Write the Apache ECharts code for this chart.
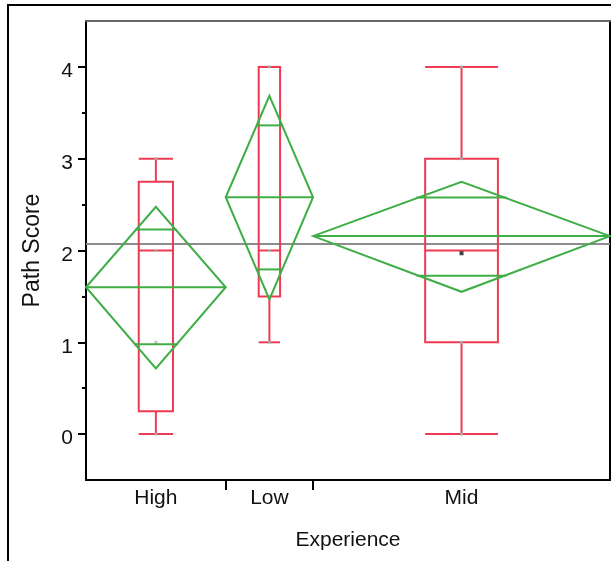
<!DOCTYPE html>
<html><head><meta charset="utf-8">
<script src="https://cdn.jsdelivr.net/npm/echarts@6/dist/echarts.min.js"></script>
<style>html,body{margin:0;padding:0;background:#fff}#c{width:611px;height:561px}</style>
</head><body><div id="c"></div>
<script>
// ---- data ----
const categories = ['High', 'Low', 'Mid'];
const counts = [8, 5, 17];
const means = [1.60, 2.58, 2.157];
const ciUpper = [2.476, 3.685, 2.749];
const ciLower = [0.716, 1.467, 1.55];
const overlapUpper = [2.23, 3.363, 2.578];
const overlapLower = [0.98, 1.794, 1.724];
const boxMin = [0, 1, 0];
const boxQ1 = [0.25, 1.5, 1];
const boxMedian = [2, 2, 2];
const boxQ3 = [2.75, 4, 3];
const boxMax = [3, 4, 4];
const grandMean = 2.07;
const pointsHigh = [0, 1, 2, 3];
const pointsLow = [1, 1.5, 2, 4];
const pointsMid = [0, 1, 3, 4];
const pointsMidDark = [1.97];
const yTicks = [0, 1, 2, 3, 4];
const yMinorTicks = [0.5, 1.5, 2.5, 3.5];

// ---- derived layout (group widths proportional to counts) ----
const starts = [];
let acc = 0;
counts.forEach(n => { starts.push(acc); acc += n; });
const total = acc;
const centers = counts.map((n, i) => starts[i] + n / 2);
const separators = starts.slice(1);
const BOX_FRAC = 0.245;

const RED = '#ee3a52', GREEN = '#3fae46', GREY = '#8c8c8c';
const FONT = "'Liberation Sans', Arial, sans-serif";
const FS = 21;

const chart = echarts.init(document.getElementById('c'), null, {renderer: 'canvas'});

function pointData(vals, i) { return vals.map(v => [centers[i], v]); }

const option = {
  animation: false,
  backgroundColor: '#fff',
  grid: {left: 86, right: 1, top: 21, bottom: 81, containLabel: false},
  graphic: [{
    type: 'polyline', silent: true,
    shape: {points: [[8, 561], [8, 5], [611, 5]]},
    style: {stroke: '#000', lineWidth: 2, fill: null}
  }],
  xAxis: [{
    type: 'value', min: 0, max: total, position: 'bottom',
    axisLine: {show: true, onZero: false, lineStyle: {color: '#000', width: 2}},
    axisTick: {show: true, customValues: separators, length: 10, lineStyle: {color: '#000', width: 2}},
    axisLabel: {
      customValues: centers, margin: 8, color: '#111', fontSize: FS, fontFamily: FONT,
      formatter: v => {
        let best = 0;
        centers.forEach((c, i) => { if (Math.abs(c - v) < Math.abs(centers[best] - v)) best = i; });
        return categories[best];
      }
    },
    splitLine: {show: false},
    name: 'Experience', nameLocation: 'middle', nameGap: 50,
    nameTextStyle: {color: '#111', fontSize: FS, fontFamily: FONT}
  }, {
    type: 'value', min: 0, max: total, position: 'top',
    axisLine: {show: true, onZero: false, lineStyle: {color: '#666', width: 2}},
    axisTick: {show: false}, axisLabel: {show: false}, splitLine: {show: false}
  }],
  yAxis: [{
    type: 'value', min: -0.5, max: 4.5, position: 'left',
    axisLine: {show: true, onZero: false, lineStyle: {color: '#000', width: 2}},
    axisTick: {show: true, customValues: yTicks, length: 8, lineStyle: {color: '#000', width: 2}},
    axisLabel: {
      customValues: yTicks, margin: 13, color: '#111', fontSize: FS, fontFamily: FONT,
      formatter: v => '{a|' + v + '}',
      rich: {a: {fontSize: FS, fontFamily: FONT, color: '#111', padding: [9, 0, 0, 0]}}
    },
    splitLine: {show: false},
    name: 'Path Score', nameLocation: 'middle', nameGap: 42,
    nameTextStyle: {color: '#111', fontSize: 23, fontFamily: FONT}
  }, {
    type: 'value', min: -0.5, max: 4.5, position: 'left', offset: 0,
    axisLine: {show: false},
    axisTick: {show: true, customValues: yMinorTicks, length: 4, lineStyle: {color: '#000', width: 2}},
    axisLabel: {show: false}, splitLine: {show: false}
  }, {
    type: 'value', min: -0.5, max: 4.5, position: 'right', offset: 0,
    axisLine: {show: true, onZero: false, lineStyle: {color: '#000', width: 2}},
    axisTick: {show: false}, axisLabel: {show: false}, splitLine: {show: false}
  }],
  series: [
    {
      type: 'custom', name: 'grandMean', silent: true, z: 2,
      data: [[0, grandMean, total]],
      renderItem: (params, api) => {
        const a = api.coord([api.value(0), api.value(1)]);
        const b = api.coord([api.value(2), api.value(1)]);
        return {type: 'line', shape: {x1: a[0], y1: a[1], x2: b[0], y2: b[1]},
          style: {stroke: GREY, lineWidth: 2}};
      }
    },
    {
      type: 'custom', name: 'box', silent: true, z: 3,
      data: categories.map((c, i) => [i]),
      renderItem: (params, api) => {
        const i = api.value(0);
        const half = counts[i] * BOX_FRAC / 2;
        const c = centers[i];
        const L = api.coord([c - half, 0])[0], R = api.coord([c + half, 0])[0];
        const X = api.coord([c, 0])[0];
        const y = v => api.coord([c, v])[1];
        const st = {stroke: RED, lineWidth: 2, fill: null};
        const ln = (x1, y1, x2, y2) => ({type: 'line', shape: {x1, y1, x2, y2}, style: st});
        return {type: 'group', children: [
          {type: 'rect', shape: {x: L, y: y(boxQ3[i]), width: R - L, height: y(boxQ1[i]) - y(boxQ3[i])}, style: st},
          ln(L, y(boxMedian[i]), R, y(boxMedian[i])),
          ln(X, y(boxQ3[i]), X, y(boxMax[i])),
          ln(X, y(boxQ1[i]), X, y(boxMin[i])),
          ln(L, y(boxMax[i]), R, y(boxMax[i])),
          ln(L, y(boxMin[i]), R, y(boxMin[i]))
        ]};
      }
    },
    {
      type: 'scatter', name: 'points', silent: true, z: 4, symbol: 'rect', symbolSize: 3,
      itemStyle: {color: '#b0b0b0'},
      data: [].concat(pointData(pointsHigh, 0), pointData(pointsLow, 1), pointData(pointsMid, 2))
    },
    {
      type: 'scatter', name: 'pointsDark', silent: true, z: 4, symbol: 'rect', symbolSize: 4,
      itemStyle: {color: '#111'},
      data: pointData(pointsMidDark, 2)
    },
    {
      type: 'custom', name: 'diamond', silent: true, z: 5,
      data: categories.map((c, i) => [i]),
      renderItem: (params, api) => {
        const i = api.value(0);
        const s = starts[i], e = starts[i] + counts[i], c = centers[i];
        const p = (x, v) => api.coord([x, v]);
        const m = means[i], up = ciUpper[i], lo = ciLower[i];
        const st = {stroke: GREEN, lineWidth: 2, fill: null};
        const widthAt = v => {
          const hh = v >= m ? (up - m) : (m - lo);
          return (counts[i] / 2) * Math.max(0, 1 - Math.abs(v - m) / hh);
        };
        const hline = v => {
          const w = widthAt(v) * 1.05;
          const a = p(c - w, v), b = p(c + w, v);
          return {type: 'line', shape: {x1: a[0], y1: a[1], x2: b[0], y2: b[1]}, style: st};
        };
        const ms = p(s, m), me = p(e, m);
        return {type: 'group', children: [
          {type: 'polygon', shape: {points: [p(s, m), p(c, up), p(e, m), p(c, lo)]}, style: st},
          {type: 'line', shape: {x1: ms[0], y1: ms[1], x2: me[0], y2: me[1]}, style: st},
          hline(overlapUpper[i]),
          hline(overlapLower[i])
        ]};
      }
    }
  ]
};
chart.setOption(option);
</script>
</body></html>
